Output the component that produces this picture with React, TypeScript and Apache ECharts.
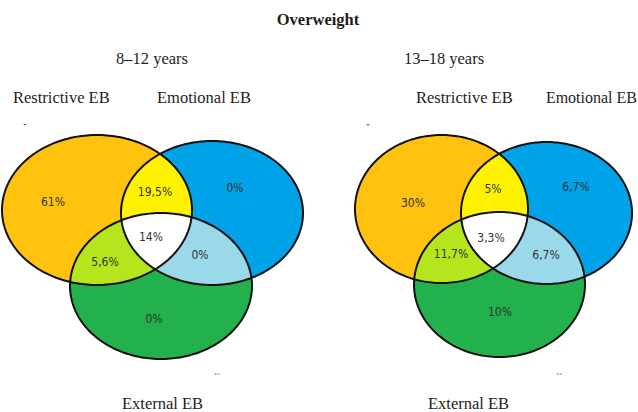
import React, { useEffect, useRef } from "react";
import * as echarts from "echarts";

// ---------- data ----------
const chartTitle = "Overweight";
const groupTitles = ["8–12 years", "13–18 years"];
const setNames = ["Restrictive EB", "Emotional EB", "External EB"];
// region order: R only, E only, X only, R∩E, R∩X, E∩X, R∩E∩X
const regionMasks = [[0], [1], [2], [0, 1], [0, 2], [1, 2], [0, 1, 2]];
const values8to12 = ["61%", "0%", "0%", "19,5%", "5,6%", "0%", "14%"];
const values13to18 = ["30%", "6,7%", "10%", "5%", "11,7%", "6,7%", "3,3%"];
const groupValues = [values8to12, values13to18];

// ---------- layout (in data units of a 638x412 plane) ----------
// ellipses per diagram: [cx, cy, rx, ry] for Restrictive, Emotional, External
const ellipses8to12 = [
  [97, 210, 95, 75],
  [212, 213, 91, 72],
  [161, 286, 91, 73],
];
const ellipses13to18 = [
  [441.5, 209, 86.5, 74],
  [546.5, 213, 85.5, 71],
  [499.5, 284.5, 85.5, 72.5],
];
const groupEllipses = [ellipses8to12, ellipses13to18];
const labelPos8to12 = [
  [53, 202], [235, 188], [154, 319], [155, 192], [105, 262], [200, 255], [151, 237],
];
const labelPos13to18 = [
  [413, 203], [576, 187], [500, 312], [493, 189], [451, 254], [546, 255], [491, 238],
];
const groupLabelPos = [labelPos8to12, labelPos13to18];
const regionColors = ["#FFC20E", "#00A2E8", "#22B14C", "#FFF200", "#B5E61D", "#99D9EA", "#FFFFFF"];

const SERIF = '"Liberation Serif", "DejaVu Serif", serif';
const HAND = '"Liberation Sans Narrow", "DejaVu Sans Condensed", "Noto Sans", sans-serif';

type P = number[];

function ellipsePoly(api: any, e: number[]): P[] {
  const pts: P[] = [];
  const n = 240;
  for (let i = 0; i < n; i++) {
    const t = (i / n) * Math.PI * 2;
    pts.push(api.coord([e[0] + e[2] * Math.cos(t), e[1] + e[3] * Math.sin(t)]));
  }
  return pts;
}

function signedArea(poly: P[]) {
  let a = 0;
  for (let i = 0; i < poly.length; i++) {
    const p = poly[i], q = poly[(i + 1) % poly.length];
    a += p[0] * q[1] - q[0] * p[1];
  }
  return a / 2;
}

function clipConvex(subject: P[], clipPoly: P[]): P[] {
  let output = subject;
  const sign = signedArea(clipPoly) > 0 ? 1 : -1;
  const n = clipPoly.length;
  for (let i = 0; i < n; i++) {
    if (!output.length) break;
    const a = clipPoly[i], b = clipPoly[(i + 1) % n];
    const ex = b[0] - a[0], ey = b[1] - a[1];
    const inside = (p: P) => sign * (ex * (p[1] - a[1]) - ey * (p[0] - a[0])) >= 0;
    const inter = (p: P, q: P): P => {
      const dx = q[0] - p[0], dy = q[1] - p[1];
      const den = dx * ey - dy * ex;
      const t = ((a[0] - p[0]) * ey - (a[1] - p[1]) * ex) / den;
      return [p[0] + t * dx, p[1] + t * dy];
    };
    const input = output;
    output = [];
    for (let j = 0; j < input.length; j++) {
      const cur = input[j], prev = input[(j + input.length - 1) % input.length];
      const ci = inside(cur), pi = inside(prev);
      if (ci) {
        if (!pi) output.push(inter(prev, cur));
        output.push(cur);
      } else if (pi) {
        output.push(inter(prev, cur));
      }
    }
  }
  return output;
}

export default function App() {
  const ref = useRef<HTMLDivElement>(null);
  useEffect(() => {
    if (!ref.current) return;
    const chart = echarts.init(ref.current, undefined, { renderer: "svg" });

    const setItems: number[][] = [];
    for (let g = 0; g < 2; g++) for (let s = 0; s < 3; s++) setItems.push([g, s]);
    const pairItems: number[][] = [];
    for (let g = 0; g < 2; g++) for (let r = 3; r < 6; r++) pairItems.push([g, r]);
    const tripleItems: number[][] = [[0, 6], [1, 6]];
    const labelItems: number[][] = [];
    for (let g = 0; g < 2; g++) for (let r = 0; r < 7; r++) labelItems.push([g, r]);

    const regionRender = (params: any, api: any) => {
      const g = api.value(0), r = api.value(1);
      const mask = regionMasks[r];
      const ells = groupEllipses[g];
      let poly = ellipsePoly(api, ells[mask[0]]);
      for (let k = 1; k < mask.length; k++) poly = clipConvex(poly, ellipsePoly(api, ells[mask[k]]));
      return {
        type: "polygon",
        shape: { points: poly },
        style: { fill: regionColors[r], stroke: "none" },
      };
    };

    const textEl = (text: string, x: number, y: number, size: number, weight: string, align = "center") => ({
      type: "text",
      x,
      y,
      style: {
        text,
        fill: "#1e1e1e",
        font: `${weight} ${size}px ${SERIF}`,
        textAlign: align,
        textVerticalAlign: "middle",
      },
    });

    chart.setOption({
      animation: false,
      backgroundColor: "#ffffff",
      grid: { left: 0, right: 0, top: 0, bottom: 0 },
      xAxis: { type: "value", min: 0, max: 638, show: false },
      yAxis: { type: "value", min: 0, max: 412, inverse: true, show: false },
      graphic: [
        textEl(chartTitle, 318, 19, 16.5, "bold"),
        textEl(groupTitles[0], 152, 58, 16.5, "normal"),
        textEl(groupTitles[1], 444, 58, 16.5, "normal"),
        textEl(setNames[0], 13, 97, 16.5, "normal", "left"),
        textEl(setNames[1], 157, 97, 16.5, "normal", "left"),
        textEl(setNames[0], 416, 97, 16.5, "normal", "left"),
        textEl(setNames[1], 637, 97, 16, "normal", "right"),
        textEl(setNames[2], 122, 403, 16.5, "normal", "left"),
        textEl(setNames[2], 428, 403, 16.5, "normal", "left"),
        { type: "text", x: 25, y: 124, style: { text: "-", fill: "#8a5a6a", font: `bold 9px ${HAND}`, textAlign: "center", textVerticalAlign: "middle" } },
        { type: "text", x: 368, y: 124, style: { text: "-", fill: "#8a5a6a", font: `bold 9px ${HAND}`, textAlign: "center", textVerticalAlign: "middle" } },
        { type: "text", x: 217, y: 372, style: { text: "..", fill: "#7aa0c0", font: `bold 9px ${HAND}`, textAlign: "center", textVerticalAlign: "middle" } },
        { type: "text", x: 559, y: 372, style: { text: "..", fill: "#7aa0c0", font: `bold 9px ${HAND}`, textAlign: "center", textVerticalAlign: "middle" } },
      ],
      series: [
        {
          type: "custom",
          coordinateSystem: "cartesian2d",
          z: 1,
          data: setItems,
          renderItem: (params: any, api: any) => {
            const g = api.value(0), s = api.value(1);
            return {
              type: "polygon",
              shape: { points: ellipsePoly(api, groupEllipses[g][s]) },
              style: { fill: regionColors[s], stroke: "none" },
            };
          },
        },
        {
          type: "custom",
          coordinateSystem: "cartesian2d",
          z: 2,
          data: pairItems,
          renderItem: regionRender,
        },
        {
          type: "custom",
          coordinateSystem: "cartesian2d",
          z: 3,
          data: tripleItems,
          renderItem: regionRender,
        },
        {
          type: "custom",
          coordinateSystem: "cartesian2d",
          z: 4,
          data: setItems,
          renderItem: (params: any, api: any) => {
            const g = api.value(0), s = api.value(1);
            return {
              type: "polygon",
              shape: { points: ellipsePoly(api, groupEllipses[g][s]) },
              style: { fill: "none", stroke: "#111", lineWidth: 2 },
            };
          },
        },
        {
          type: "custom",
          coordinateSystem: "cartesian2d",
          z: 5,
          data: labelItems,
          renderItem: (params: any, api: any) => {
            const g = api.value(0), r = api.value(1);
            const p = api.coord(groupLabelPos[g][r]);
            return {
              type: "text",
              x: p[0],
              y: p[1],
              style: {
                text: groupValues[g][r],
                fill: "#333",
                font: `12px ${HAND}`,
                textAlign: "center",
                textVerticalAlign: "middle",
                align: "center",
                verticalAlign: "middle",
              },
            };
          },
        },
      ],
    });
    return () => chart.dispose();
  }, []);
  return (
    <div
      ref={ref}
      style={{ position: "fixed", left: 0, top: 0, width: 638, height: 412, background: "#fff" }}
    />
  );
}
